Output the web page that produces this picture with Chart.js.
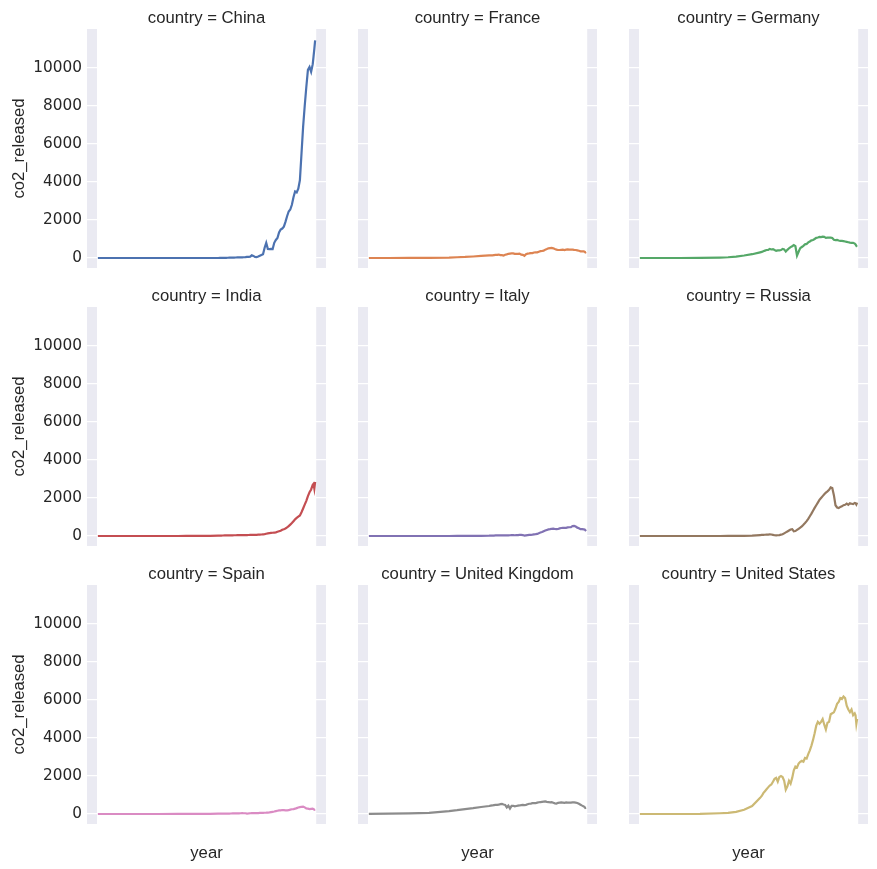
<!DOCTYPE html>
<html>
<head>
<meta charset="utf-8">
<script src="https://cdn.jsdelivr.net/npm/chart.js@4.4.1/dist/chart.umd.min.js"></script>
<style>
  html, body { margin: 0; padding: 0; background: #fff; overflow: hidden; }
  #grid { position: relative; width: 877px; height: 869px; }
  #grid canvas { position: absolute; }
</style>
</head>
<body>
<div id="grid"></div>
<script>
// years (denser in the 20th century)
const years = [
  1750, 1775, 1800, 1825, 1850, 1860, 1870, 1880, 1890,
  1900, 1902, 1904, 1906, 1908, 1910, 1912, 1914, 1916, 1918,
  1920, 1922, 1924, 1926, 1928, 1930, 1932, 1934, 1936, 1938,
  1940, 1942, 1944, 1946, 1948, 1950, 1952, 1954, 1956, 1958,
  1960, 1962, 1964, 1966, 1968, 1970, 1972, 1974, 1976, 1978,
  1980, 1982, 1984, 1986, 1988, 1990, 1992, 1994, 1996, 1998,
  2000, 2002, 2004, 2006, 2008, 2010, 2012, 2014, 2016, 2018,
  2019, 2020, 2021
];

const countries = ['China', 'France', 'Germany', 'India', 'Italy', 'Russia', 'Spain', 'United Kingdom', 'United States'];

const china = [
  0, 0, 0, 0, 0, 0, 0, 0, 0,
  1, 2, 3, 5, 8, 10, 14, 18, 20, 22,
  25, 27, 30, 30, 32, 35, 40, 45, 55, 60,
  70, 140, 110, 60, 50, 80, 120, 160, 200, 540,
  800, 480, 470, 480, 470, 800, 950, 1050, 1350, 1500,
  1550, 1650, 1900, 2200, 2450, 2550, 2800, 3200, 3500, 3450,
  3650, 4100, 5500, 6900, 8000, 9000, 9900, 10050, 9800, 10200,
  10600, 11000, 11450
];
const france = [
  0, 1, 2, 5, 20, 40, 55, 80, 110,
  140, 135, 140, 150, 160, 165, 180, 150, 150, 130,
  170, 190, 220, 230, 240, 240, 215, 220, 215, 230,
  180, 165, 115, 200, 230, 240, 260, 260, 290, 300,
  300, 330, 360, 370, 390, 440, 470, 510, 520, 530,
  510, 470, 440, 420, 420, 430, 440, 420, 440, 450,
  440, 440, 445, 430, 420, 400, 380, 350, 355, 345,
  330, 295, 315
];
const germany = [
  0, 0, 1, 3, 25, 40, 70, 130, 200,
  300, 320, 360, 390, 420, 430, 480, 450, 470, 420,
  380, 400, 400, 420, 480, 450, 340, 430, 510, 570,
  620, 680, 620, 130, 330, 520, 580, 640, 720, 740,
  820, 870, 930, 950, 1000, 1060, 1080, 1110, 1100, 1120,
  1110, 1060, 1070, 1080, 1070, 1050, 960, 940, 950, 920,
  900, 900, 890, 870, 850, 830, 810, 800, 800, 760,
  710, 640, 680
];
const india = [
  0, 0, 0, 0, 1, 2, 3, 5, 10,
  20, 22, 24, 26, 28, 30, 32, 34, 36, 38,
  40, 40, 42, 44, 45, 45, 44, 45, 48, 52,
  55, 58, 60, 58, 62, 70, 75, 80, 90, 100,
  120, 140, 150, 160, 170, 180, 190, 220, 250, 280,
  330, 360, 400, 450, 520, 600, 680, 780, 880, 950,
  1020, 1080, 1250, 1450, 1650, 1850, 2100, 2300, 2450, 2700,
  2750, 2500, 2850
];
const italy = [
  0, 0, 0, 0, 1, 2, 4, 6, 10,
  15, 18, 20, 24, 28, 30, 35, 35, 30, 28,
  30, 30, 35, 40, 45, 45, 40, 45, 50, 55,
  55, 50, 25, 35, 45, 55, 60, 70, 85, 95,
  110, 150, 180, 210, 250, 290, 320, 350, 360, 380,
  390, 370, 360, 370, 400, 420, 430, 430, 430, 450,
  460, 470, 520, 530, 500, 440, 410, 360, 360, 350,
  340, 300, 340
];
const russia = [
  0, 0, 0, 0, 1, 2, 5, 10, 20,
  50, 55, 60, 65, 70, 75, 85, 80, 60, 40,
  30, 40, 50, 70, 90, 140, 190, 240, 290, 340,
  360, 250, 260, 320, 380, 440, 510, 590, 680, 780,
  900, 1040, 1180, 1330, 1480, 1620, 1760, 1900, 2000, 2100,
  2200, 2280, 2350, 2430, 2560, 2520, 2150, 1620, 1500, 1470,
  1530, 1560, 1620, 1640, 1700, 1640, 1720, 1700, 1680, 1740,
  1730, 1660, 1760
];
const spain = [
  0, 0, 0, 0, 2, 3, 5, 8, 12,
  15, 16, 17, 18, 20, 22, 24, 25, 27, 28,
  30, 32, 35, 38, 40, 42, 40, 40, 25, 30,
  40, 42, 44, 46, 48, 50, 55, 58, 62, 66,
  68, 75, 85, 100, 115, 130, 150, 170, 190, 195,
  210, 200, 190, 195, 200, 230, 250, 260, 280, 310,
  340, 360, 380, 390, 350, 290, 280, 260, 270, 280,
  260, 225, 250
];
const unitedKingdom = [
  9, 15, 30, 60, 150, 200, 260, 310, 370,
  420, 440, 450, 470, 480, 480, 490, 520, 530, 500,
  480, 350, 440, 290, 430, 430, 400, 420, 440, 450,
  470, 480, 470, 480, 510, 540, 550, 570, 580, 570,
  600, 620, 630, 640, 650, 660, 640, 630, 610, 620,
  590, 560, 550, 590, 600, 610, 600, 590, 610, 600,
  600, 600, 610, 610, 600, 580, 540, 490, 440, 400,
  370, 320, 330
];
const unitedStates = [
  0, 0, 1, 3, 40, 60, 110, 220, 420,
  850, 950, 1100, 1200, 1300, 1400, 1500, 1550, 1700, 1850,
  1900, 1700, 1950, 2000, 1950, 1750, 1280, 1450, 1750, 1600,
  1900, 2300, 2500, 2450, 2650, 2750, 2800, 2750, 2950, 2920,
  3150, 3350, 3600, 3900, 4250, 4650, 4850, 4750, 4850, 5000,
  4700, 4450, 4800, 4850, 5250, 5300, 5350, 5550, 5800, 5900,
  6100, 6050, 6180, 6100, 5700, 5500, 5360, 5500, 5200, 5300,
  5200, 4750, 5010
];

const seriesByCountry = [china, france, germany, india, italy, russia, spain, unitedKingdom, unitedStates];
const colors = ['#4C72B0', '#DD8452', '#55A868', '#C44E52', '#8172B3', '#937860', '#DA8BC3', '#8C8C8C', '#CCB974'];
const yTicks = [0, 2000, 4000, 6000, 8000, 10000];

const FONT = '"Liberation Sans", Arial, sans-serif';
const TICK_FONT = '"DejaVu Sans", sans-serif';
const TEXT = '#262626';
const colLeft = [0, 271, 542];
const rowTop = [0, 278, 556];
const CANVAS_W = 330;
const CANVAS_H = 313;

// seaborn darkgrid: gray axes face painted under the white grid
const facetBackground = {
  id: 'facetBackground',
  beforeDraw(chart) {
    const { ctx, chartArea: a } = chart;
    ctx.save();
    ctx.fillStyle = '#EAEAF2';
    ctx.fillRect(a.left, a.top, a.right - a.left, a.bottom - a.top);
    ctx.restore();
  }
};

function makeFacet(i) {
  const col = i % 3;
  const row = Math.floor(i / 3);
  const canvas = document.createElement('canvas');
  canvas.width = CANVAS_W;
  canvas.height = CANVAS_H;
  canvas.style.left = colLeft[col] + 'px';
  canvas.style.top = rowTop[row] + 'px';
  document.getElementById('grid').appendChild(canvas);

  const values = seriesByCountry[i];
  const first = years[0];
  const last = years[years.length - 1];
  const pad = (last - first) * 0.05;

  new Chart(canvas.getContext('2d'), {
    type: 'line',
    data: {
      datasets: [{
        data: values.map((v, k) => ({ x: years[k], y: v })),
        borderColor: colors[i],
        borderWidth: 2.2,
        pointRadius: 0,
        tension: 0,
        fill: false
      }]
    },
    options: {
      responsive: false,
      animation: false,
      devicePixelRatio: 1,
      events: [],
      layout: { padding: { left: 0, top: 0, bottom: 0, right: 4 } },
      plugins: {
        legend: { display: false },
        tooltip: { enabled: false },
        title: {
          display: true,
          fullSize: false,
          text: 'country = ' + countries[i],
          color: TEXT,
          font: { family: FONT, size: 16.7, weight: 'normal', lineHeight: '20px' },
          padding: { top: 8.5, bottom: 0.5 }
        }
      },
      scales: {
        x: {
          type: 'linear',
          min: first - pad,
          max: last + pad,
          afterFit: s => { s.height = CANVAS_H - 29 - 239; },
          ticks: { display: false, stepSize: 1 },
          grid: {
            drawTicks: false,
            lineWidth: 1.2,
            color: c => (c.tick && c.tick.value >= first && c.tick.value <= last) ? '#ffffff' : 'rgba(0,0,0,0)'
          },
          border: { display: false },
          title: {
            display: row === 2,
            text: 'year',
            color: TEXT,
            font: { family: FONT, size: 16.7, lineHeight: '20px' },
            padding: { top: 0, bottom: 6 }
          }
        },
        y: {
          min: -526,
          max: 12052,
          afterFit: s => { s.width = 87; },
          afterBuildTicks: s => { s.ticks = yTicks.map(v => ({ value: v })); },
          ticks: {
            display: col === 0,
            color: TEXT,
            padding: 5,
            font: { family: TICK_FONT, size: 15.3 },
            callback: v => String(v)
          },
          grid: { drawTicks: false, lineWidth: 1.2, color: '#ffffff' },
          border: { display: false },
          title: {
            display: col === 0,
            text: 'co2_released',
            color: TEXT,
            font: { family: FONT, size: 16.7, lineHeight: '20px' },
            padding: { top: 9, bottom: 0 }
          }
        }
      }
    },
    plugins: [facetBackground]
  });
}

countries.forEach((name, i) => makeFacet(i));
</script>
</body>
</html>
